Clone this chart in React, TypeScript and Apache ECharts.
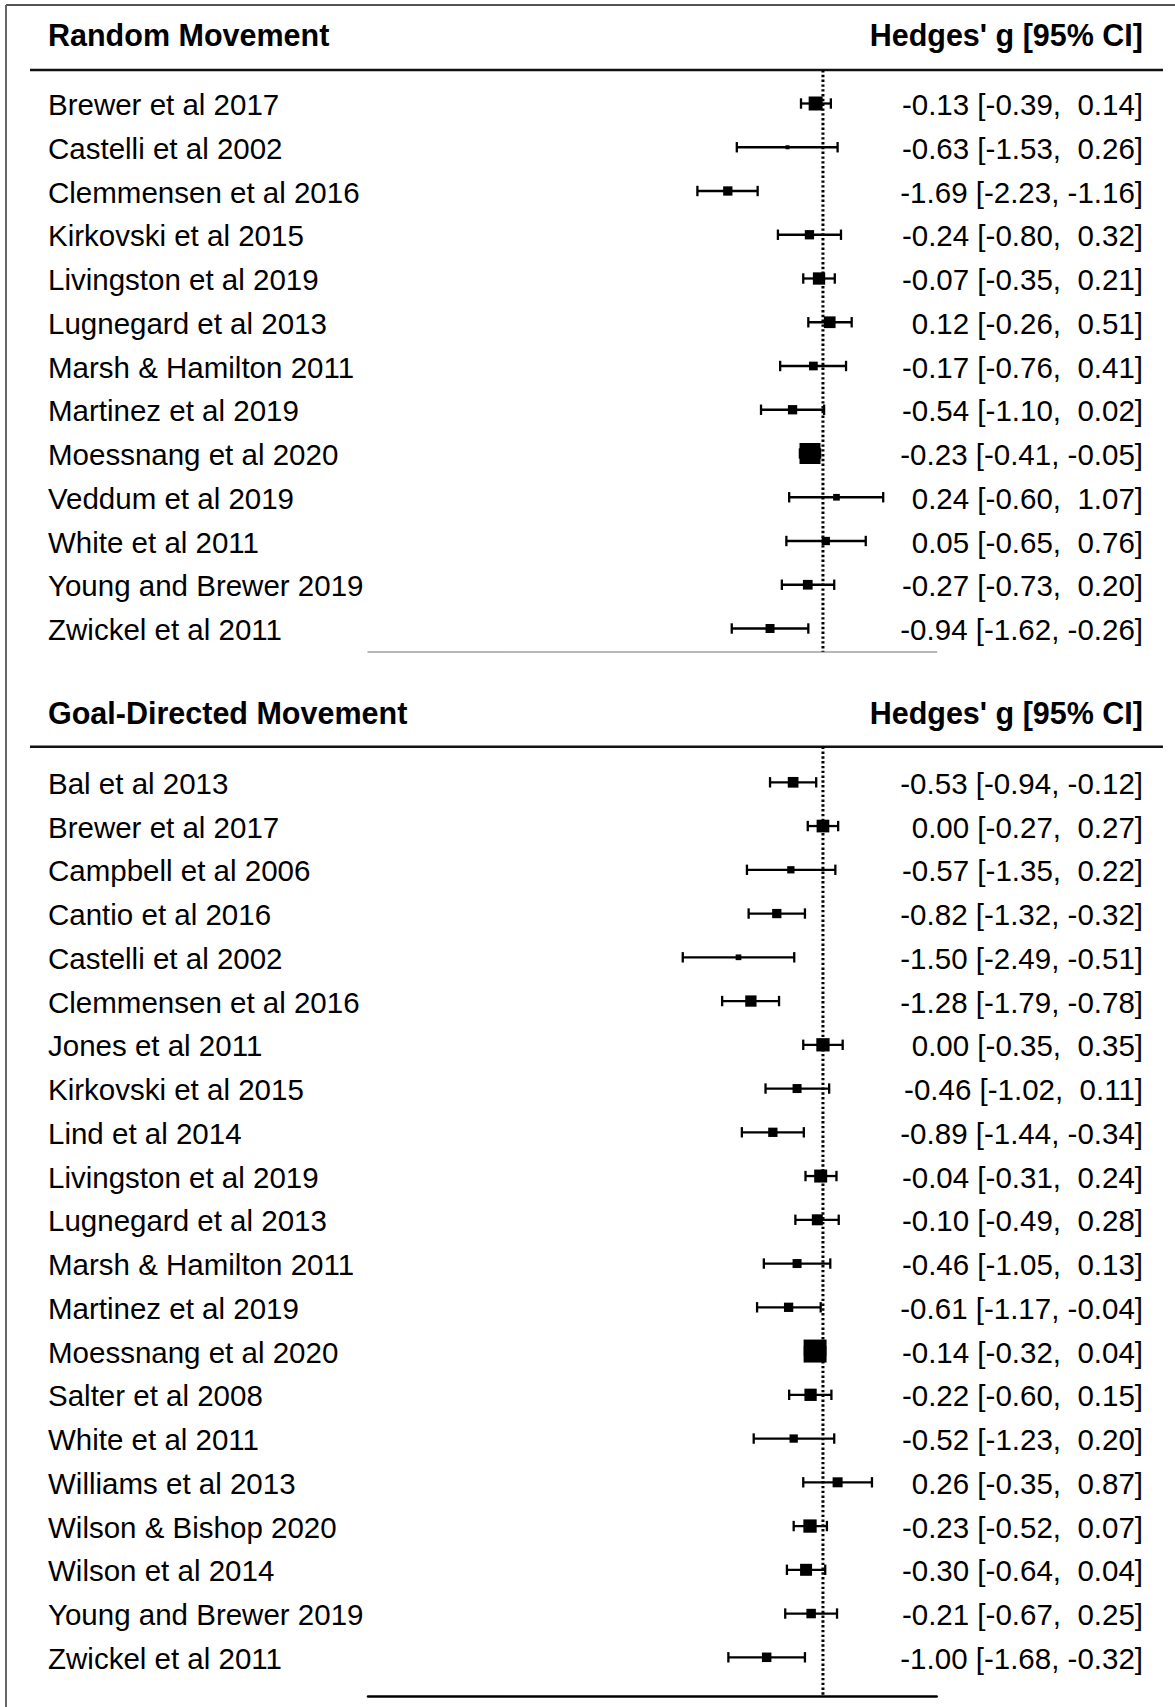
import React, { useEffect, useRef } from "react";
import * as echarts from "echarts";

// ---------- Data ----------
const randomStudies = [
  "Brewer et al 2017",
  "Castelli et al 2002",
  "Clemmensen et al 2016",
  "Kirkovski et al 2015",
  "Livingston et al 2019",
  "Lugnegard et al 2013",
  "Marsh & Hamilton 2011",
  "Martinez et al 2019",
  "Moessnang et al 2020",
  "Veddum et al 2019",
  "White et al 2011",
  "Young and Brewer 2019",
  "Zwickel et al 2011",
];
const randomEst = [-0.13, -0.63, -1.69, -0.24, -0.07, 0.12, -0.17, -0.54, -0.23, 0.24, 0.05, -0.27, -0.94];
const randomLo = [-0.39, -1.53, -2.23, -0.8, -0.35, -0.26, -0.76, -1.1, -0.41, -0.6, -0.65, -0.73, -1.62];
const randomHi = [0.14, 0.26, -1.16, 0.32, 0.21, 0.51, 0.41, 0.02, -0.05, 1.07, 0.76, 0.2, -0.26];
const randomWeight = [14, 4, 9.3, 9.3, 12.3, 11.7, 8.7, 9.3, 21, 6.7, 8.3, 9.7, 9];

const goalStudies = [
  "Bal et al 2013",
  "Brewer et al 2017",
  "Campbell et al 2006",
  "Cantio et al 2016",
  "Castelli et al 2002",
  "Clemmensen et al 2016",
  "Jones et al 2011",
  "Kirkovski et al 2015",
  "Lind et al 2014",
  "Livingston et al 2019",
  "Lugnegard et al 2013",
  "Marsh & Hamilton 2011",
  "Martinez et al 2019",
  "Moessnang et al 2020",
  "Salter et al 2008",
  "White et al 2011",
  "Williams et al 2013",
  "Wilson & Bishop 2020",
  "Wilson et al 2014",
  "Young and Brewer 2019",
  "Zwickel et al 2011",
];
const goalEst = [-0.53, 0.0, -0.57, -0.82, -1.5, -1.28, 0.0, -0.46, -0.89, -0.04, -0.1, -0.46, -0.61, -0.14, -0.22, -0.52, 0.26, -0.23, -0.3, -0.21, -1.0];
const goalLo = [-0.94, -0.27, -1.35, -1.32, -2.49, -1.79, -0.35, -1.02, -1.44, -0.31, -0.49, -1.05, -1.17, -0.32, -0.6, -1.23, -0.35, -0.52, -0.64, -0.67, -1.68];
const goalHi = [-0.12, 0.27, 0.22, -0.32, -0.51, -0.78, 0.35, 0.11, -0.34, 0.24, 0.28, 0.13, -0.04, 0.04, 0.15, 0.2, 0.87, 0.07, 0.04, 0.25, -0.32];
const goalWeight = [10.7, 12.7, 7.3, 9.3, 5.7, 11.3, 13.3, 9, 9.3, 13, 11, 9, 9.3, 23, 12.3, 8.3, 10, 13.3, 12, 9.5, 9.5];

const REF_VALUE = 0;
const randomHeader = "Random Movement";
const goalHeader = "Goal-Directed Movement";
const statHeader = "Hedges' g [95% CI]";

// ---------- Layout / style ----------
const FONT = '"Liberation Sans", Arial, sans-serif';
const TEXT_FONT = `29.5px ${FONT}`;
const HEAD_FONT = `bold 30.5px ${FONT}`;
const NAME_X = 48;
const STAT_X = 1143;
const X_MIN = -8.08;
const X_MAX = 2.02;
const PLOT_LEFT = 368;
const PLOT_WIDTH = 568.7;
const ROW_H = 43.75;
const G1_TOP = 70;
const G1_BOTTOM = 651.7;
const G1_FIRST = 103.5;
const G2_TOP = 746.7;
const G2_BOTTOM = 1696;
const G2_FIRST = 782.3;
const LINE_W = 2.3;

const fmt = (v: number) => (Math.abs(v) < 0.005 ? "0.00" : v.toFixed(2));
const statLabel = (e: number, l: number, h: number) =>
  `${fmt(e)} [${fmt(l)},\u00a0${h >= 0 ? "\u00a0" : ""}${fmt(h)}]`;

function makeRender(names: string[], est: number[], lo: number[], hi: number[]) {
  return (params: any, api: any) => {
    const e = api.value(0);
    const row = api.value(1);
    const l = api.value(2);
    const h = api.value(3);
    const w = api.value(4);
    const idx = api.value(5);
    const pE = api.coord([e, row]);
    const pL = api.coord([l, row]);
    const pH = api.coord([h, row]);
    const y = pE[1];
    const half = w / 2;
    const cap = 5.2;
    return {
      type: "group",
      children: [
        {
          type: "line",
          shape: { x1: pL[0], y1: y, x2: pH[0], y2: y },
          style: { stroke: "#000", lineWidth: LINE_W },
        },
        {
          type: "line",
          shape: { x1: pL[0], y1: y - cap, x2: pL[0], y2: y + cap },
          style: { stroke: "#000", lineWidth: LINE_W },
        },
        {
          type: "line",
          shape: { x1: pH[0], y1: y - cap, x2: pH[0], y2: y + cap },
          style: { stroke: "#000", lineWidth: LINE_W },
        },
        {
          type: "rect",
          shape: { x: pE[0] - half, y: y - half, width: half * 2, height: half * 2 },
          style: { fill: "#000" },
        },
        {
          type: "text",
          x: NAME_X,
          y: y + 1,
          style: {
            text: names[idx],
            font: TEXT_FONT,
            fill: "#000",
            textAlign: "left",
            textVerticalAlign: "middle",
          },
        },
        {
          type: "text",
          x: STAT_X,
          y: y + 1,
          style: {
            text: statLabel(est[idx], lo[idx], hi[idx]),
            font: TEXT_FONT,
            fill: "#000",
            textAlign: "right",
            textVerticalAlign: "middle",
          },
        },
      ],
    };
  };
}

function buildData(est: number[], lo: number[], hi: number[], w: number[]) {
  return est.map((e, i) => [e, i, lo[i], hi[i], w[i], i]);
}

export default function App() {
  const ref = useRef<HTMLDivElement>(null);
  useEffect(() => {
    if (!ref.current) return;
    const chart = echarts.init(ref.current, null, { renderer: "svg" });

    const y1Min = (G1_TOP - G1_FIRST) / ROW_H;
    const y1Max = (G1_BOTTOM - G1_FIRST) / ROW_H;
    const y2Min = (G2_TOP - G2_FIRST) / ROW_H;
    const y2Max = (G2_BOTTOM - G2_FIRST) / ROW_H;

    const xAxisBase = {
      type: "value",
      min: X_MIN,
      max: X_MAX,
      position: "bottom",
      splitLine: { show: false },
      axisTick: { show: false },
      axisLabel: { show: false },
    };

    const refLine = { color: "#000", width: 3, type: [2.4, 2.4] };

    const option: any = {
      animation: false,
      backgroundColor: "#fff",
      grid: [
        { left: PLOT_LEFT, width: PLOT_WIDTH, top: G1_TOP, height: G1_BOTTOM - G1_TOP },
        { left: PLOT_LEFT, width: PLOT_WIDTH, top: G2_TOP, height: G2_BOTTOM - G2_TOP },
      ],
      xAxis: [
        {
          ...xAxisBase,
          gridIndex: 0,
          axisLine: { show: true, onZero: false, lineStyle: { color: "#a0a0a0", width: 1.5 } },
        },
        {
          ...xAxisBase,
          gridIndex: 1,
          axisLine: { show: true, onZero: false, lineStyle: { color: "#000", width: 2.5 } },
        },
      ],
      yAxis: [
        { type: "value", gridIndex: 0, inverse: true, min: y1Min, max: y1Max, show: false },
        { type: "value", gridIndex: 1, inverse: true, min: y2Min, max: y2Max, show: false },
      ],
      graphic: [
        { type: "line", shape: { x1: 6, y1: 5, x2: 1175, y2: 5 }, style: { stroke: "#555", lineWidth: 2 } },
        { type: "line", shape: { x1: 6, y1: 5, x2: 6, y2: 1707 }, style: { stroke: "#666", lineWidth: 2 } },
        { type: "line", shape: { x1: 30, y1: G1_TOP, x2: 1163, y2: G1_TOP }, style: { stroke: "#111", lineWidth: 2.5 } },
        { type: "line", shape: { x1: 30, y1: G2_TOP, x2: 1163, y2: G2_TOP }, style: { stroke: "#111", lineWidth: 2.5 } },
        {
          type: "text", x: NAME_X, y: 35,
          style: { text: randomHeader, font: HEAD_FONT, fill: "#000", textAlign: "left", textVerticalAlign: "middle" },
        },
        {
          type: "text", x: STAT_X, y: 35,
          style: { text: statHeader, font: HEAD_FONT, fill: "#000", textAlign: "right", textVerticalAlign: "middle" },
        },
        {
          type: "text", x: NAME_X, y: 713,
          style: { text: goalHeader, font: HEAD_FONT, fill: "#000", textAlign: "left", textVerticalAlign: "middle" },
        },
        {
          type: "text", x: STAT_X, y: 713,
          style: { text: statHeader, font: HEAD_FONT, fill: "#000", textAlign: "right", textVerticalAlign: "middle" },
        },
      ],
      series: [
        {
          type: "line",
          xAxisIndex: 0,
          yAxisIndex: 0,
          data: [[REF_VALUE, y1Min], [REF_VALUE, y1Max]],
          symbol: "none",
          silent: true,
          lineStyle: refLine,
          z: 1,
        },
        {
          type: "line",
          xAxisIndex: 1,
          yAxisIndex: 1,
          data: [[REF_VALUE, y2Min], [REF_VALUE, y2Max]],
          symbol: "none",
          silent: true,
          lineStyle: refLine,
          z: 1,
        },
        {
          type: "custom",
          xAxisIndex: 0,
          yAxisIndex: 0,
          clip: false,
          z: 3,
          renderItem: makeRender(randomStudies, randomEst, randomLo, randomHi),
          encode: { x: 0, y: 1 },
          data: buildData(randomEst, randomLo, randomHi, randomWeight),
        },
        {
          type: "custom",
          xAxisIndex: 1,
          yAxisIndex: 1,
          clip: false,
          z: 3,
          renderItem: makeRender(goalStudies, goalEst, goalLo, goalHi),
          encode: { x: 0, y: 1 },
          data: buildData(goalEst, goalLo, goalHi, goalWeight),
        },
      ],
    };
    chart.setOption(option);
    return () => chart.dispose();
  }, []);
  return (
    <div
      ref={ref}
      style={{ position: "absolute", left: 0, top: 0, width: 1175, height: 1707, background: "#fff" }}
    />
  );
}
